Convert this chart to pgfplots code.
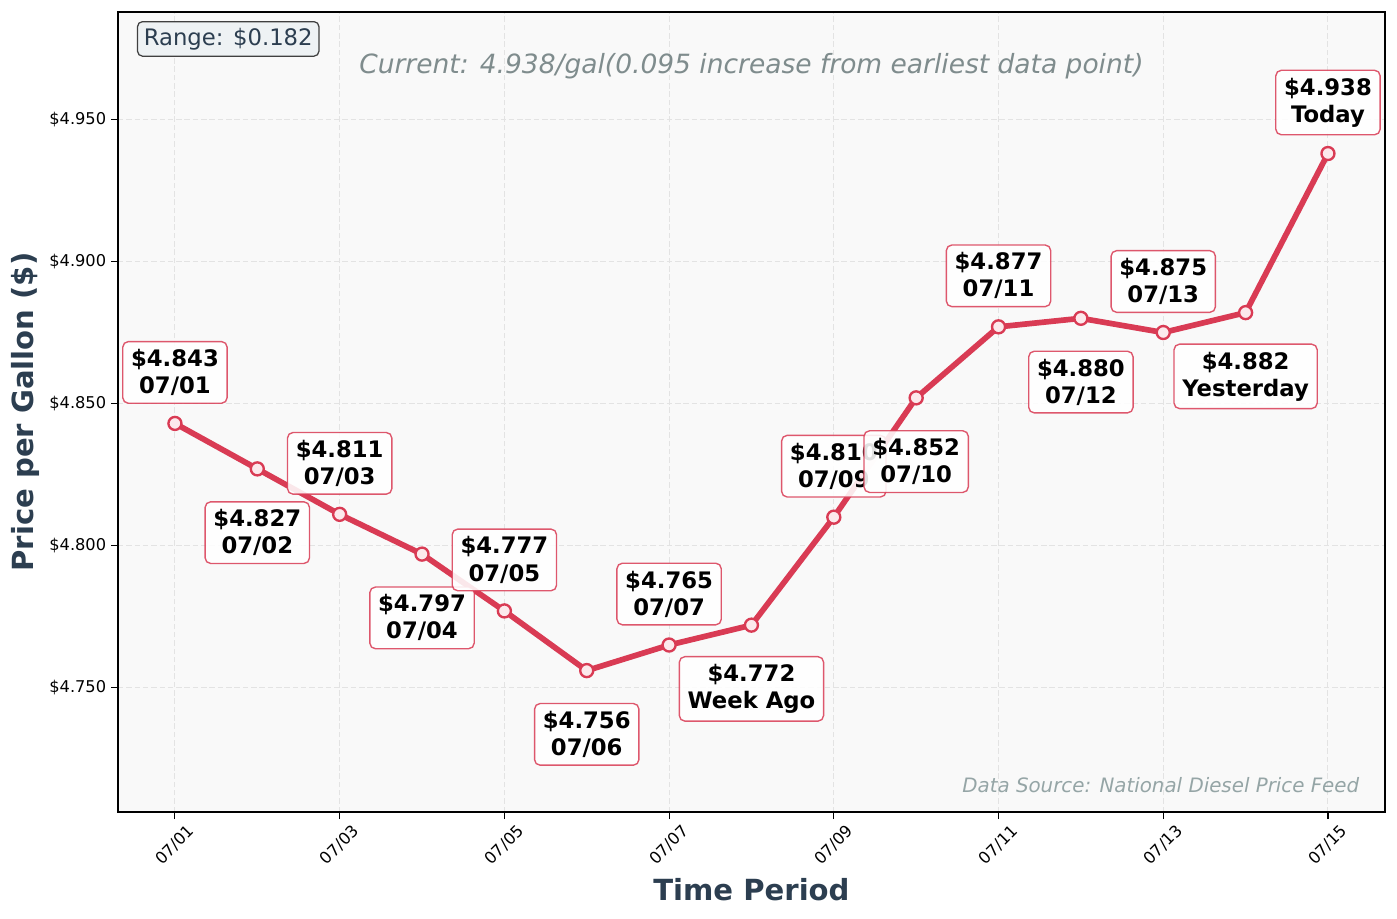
\documentclass[border=0pt]{standalone}
\usepackage{pgfplots}
\pgfplotsset{compat=1.18}
\usepackage{fontspec}
\setmainfont{DejaVu Sans}
\definecolor{linecol}{HTML}{D93B54}
\definecolor{mkfill}{HTML}{FCE9EC}
\definecolor{labcol}{HTML}{2C3E50}
\definecolor{curcol}{HTML}{7F8C8D}
\definecolor{srccol}{HTML}{95A5A6}
\definecolor{bgcol}{HTML}{F9F9F9}
\definecolor{rangefill}{HTML}{EEF2F4}
\begin{document}
\begin{tikzpicture}
\tikzset{lab/.style={draw=linecol, draw opacity=0.85, fill=white, fill opacity=0.88, text opacity=1,
  rounded corners=4pt, align=center, font=\fontsize{16.4}{19.5}\selectfont\bfseries,
  inner xsep=6pt, inner ysep=5.5pt, line width=1pt, anchor=center}}
\begin{axis}[
  scale only axis, width=914.1pt, height=577.2pt,
  xmin=-0.692, xmax=14.692, ymin=4.7062, ymax=4.9878,
  axis background/.style={fill=bgcol},
  axis line style={line width=0.9pt, black},
  xtick={0,2,4,6,8,10,12,14},
  xticklabels={07/01,07/03,07/05,07/07,07/09,07/11,07/13,07/15},
  ytick={4.75,4.80,4.85,4.90,4.95},
  yticklabels={\$4.750,\$4.800,\$4.850,\$4.900,\$4.950},
  tick align=outside, major tick length=5pt,
  tick style={black, line width=0.8pt},
  xtick pos=bottom, ytick pos=left,
  ticklabel style={font=\fontsize{11.7}{14}\selectfont},
  xticklabel style={rotate=45, anchor=center, xshift=-13.3pt, yshift=-13.3pt},
  grid=major,
  major grid style={dash pattern=on 4pt off 2pt, draw=gray!22, line width=0.7pt},
  xlabel={Time Period}, ylabel={Price per Gallon (\$)},
  label style={font=\fontsize{21}{25}\selectfont\bfseries, text=labcol},
  xlabel style={at={(axis description cs:0.5,-0.0975)}, anchor=center},
  ylabel style={at={(axis description cs:-0.0733,0.5)}, anchor=center, rotate=0},
  clip=false,
]
\addplot[linecol, line width=4.1pt, mark=*, mark size=4.7pt,
  mark options={draw=linecol, fill=mkfill, line width=1.7pt}]
coordinates {
(0,4.843) (1,4.827) (2,4.811) (3,4.797) (4,4.777) (5,4.756) (6,4.765) (7,4.772)
(8,4.810) (9,4.852) (10,4.877) (11,4.880) (12,4.875) (13,4.882) (14,4.938)
};
\node[lab, yshift=36.8pt] at (axis cs:0,4.843) {\$4.843\\07/01};
\node[lab, yshift=-46pt] at (axis cs:1,4.827) {\$4.827\\07/02};
\node[lab, yshift=36.8pt] at (axis cs:2,4.811) {\$4.811\\07/03};
\node[lab, yshift=-46pt] at (axis cs:3,4.797) {\$4.797\\07/04};
\node[lab, yshift=36.8pt] at (axis cs:4,4.777) {\$4.777\\07/05};
\node[lab, yshift=-46pt] at (axis cs:5,4.756) {\$4.756\\07/06};
\node[lab, yshift=36.8pt] at (axis cs:6,4.765) {\$4.765\\07/07};
\node[lab, yshift=-46pt] at (axis cs:7,4.772) {\$4.772\\Week Ago};
\node[lab, yshift=36.8pt] at (axis cs:8,4.810) {\$4.810\\07/09};
\node[lab, yshift=-46pt] at (axis cs:9,4.852) {\$4.852\\07/10};
\node[lab, yshift=36.8pt] at (axis cs:10,4.877) {\$4.877\\07/11};
\node[lab, yshift=-46pt] at (axis cs:11,4.880) {\$4.880\\07/12};
\node[lab, yshift=36.8pt] at (axis cs:12,4.875) {\$4.875\\07/13};
\node[lab, yshift=-46pt] at (axis cs:13,4.882) {\$4.882\\Yesterday};
\node[lab, yshift=36.8pt] at (axis cs:14,4.938) {\$4.938\\Today};
\node[anchor=center, font=\fontsize{19.1}{22}\selectfont\itshape, text=curcol]
  at (rel axis cs:0.5,0.9325) {Current: 4.938/gal(0.095 increase from earliest data point)};
\node[anchor=east, font=\fontsize{14.3}{17}\selectfont\itshape, text=srccol]
  at (rel axis cs:0.9835,0.034) {Data Source: National Diesel Price Feed};
\node[anchor=north west, draw=black!75, fill=rangefill, rounded corners=3.5pt, line width=0.9pt,
  inner xsep=4.5pt, inner ysep=4.5pt, font=\fontsize{16.4}{19}\selectfont, text=labcol]
  at ([xshift=13.7pt,yshift=-6.5pt]rel axis cs:0,1) {Range: \$0.182};
\end{axis}
\pgfresetboundingbox
\path ([xshift=-85.1pt,yshift=-76.5pt]current axis.south west) rectangle ([xshift=8.7pt,yshift=8.7pt]current axis.north east);
\end{tikzpicture}
\end{document}
